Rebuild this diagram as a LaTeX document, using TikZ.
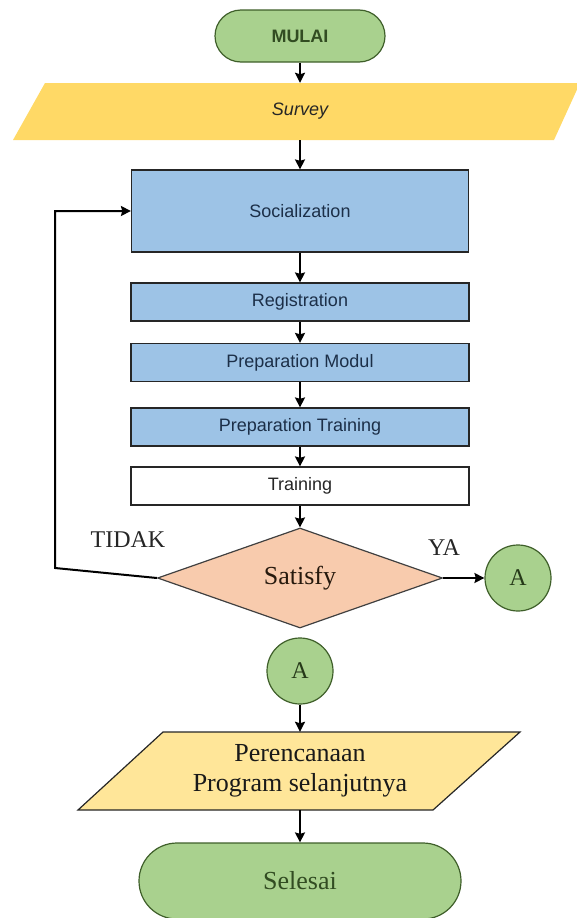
\documentclass[tikz,border=0pt]{standalone}
\usepackage{fontspec}
\setmainfont{Liberation Serif}
\setsansfont{Liberation Sans}
\usetikzlibrary{shapes.geometric, arrows.meta, positioning}
\definecolor{termgreen}{HTML}{A9D18E}
\definecolor{termedge}{HTML}{3F5F2A}
\definecolor{surveyyellow}{HTML}{FFD966}
\definecolor{planyellow}{HTML}{FFE699}
\definecolor{stepblue}{HTML}{9DC3E6}
\definecolor{stepnavy}{HTML}{1C2F48}
\definecolor{decisionpeach}{HTML}{F8CBAD}
\tikzstyle{terminal} = [rectangle, draw=termedge, fill=termgreen, line width=1.2pt, text centered, text=termedge!80!black]
\tikzstyle{block} = [rectangle, draw=black!85, fill=stepblue, line width=1.2pt, text centered, minimum width=338pt, minimum height=38pt, text=stepnavy, font=\sffamily\fontsize{18}{20}\selectfont]
\tikzstyle{plainblock} = [block, fill=white, text=black!85]
\tikzstyle{iotext} = [rectangle, text centered, inner sep=0pt]
\tikzstyle{decision} = [diamond, draw=black!75, fill=decisionpeach, line width=1.2pt, aspect=2.85, minimum width=285pt, minimum height=100pt, inner sep=0pt, text=black!80!brown, font=\fontsize{26}{28}\selectfont]
\tikzstyle{connector} = [circle, draw=termedge, fill=termgreen, line width=1.2pt, minimum size=66pt, inner sep=0pt, text=termedge!60!black, font=\fontsize{24}{26}\selectfont]
\tikzstyle{answer} = [text=black!85, font=\fontsize{24}{26}\selectfont]
\tikzstyle{arrow} = [line width=2pt,->,>={Stealth[length=10pt,width=10pt,inset=1.5pt]}]

\begin{document}
\begin{tikzpicture}[x=1pt, y=-1pt]
    \useasboundingbox (0,0) rectangle (577,918);

    % Parallelogram bodies
    \fill [surveyyellow] (13,140) -- (45,83) -- (580,83) -- (554,140) -- cycle;
    \filldraw [fill=planyellow, draw=black!85, line width=1.2pt] (78,810) -- (163,732) -- (520,732) -- (433,810) -- cycle;

    % Main column
    \node (start) [terminal, rounded corners=26pt, minimum width=170pt, minimum height=52pt, font=\sffamily\bfseries\fontsize{18}{20}\selectfont] at (300,36) {MULAI};
    \node (survey) [iotext, minimum width=500pt, minimum height=57pt, text=black!85, font=\sffamily\itshape\fontsize{18}{20}\selectfont] at (300,111.5) {Survey};
    \node (social) [block, minimum width=337pt, minimum height=82pt] at (300,211) {Socialization};
    \node (regist) [block] at (300,302) {Registration};
    \node (modul) [block] at (300,362.5) {Preparation Modul};
    \node (preptrain) [block] at (300,427) {Preparation Training};
    \node (train) [plainblock] at (300,486) {Training};
    \node (satisfy) [decision] at (300,578) {Satisfy};

    % Answers
    \node (tidak) [answer] at (128,540) {TIDAK};
    \node (ya) [answer] at (444,548) {YA};
    \node (yesA) [connector] at (518,578) {A};
    \coordinate (loopcorner) at (55,568);

    % After connector
    \node (contA) [connector] at (300,671) {A};
    \node (plan) [iotext, minimum width=300pt, minimum height=78pt, align=center, text=black!90, font=\fontsize{26}{30}\selectfont] at (300,771) {Perencanaan\\Program selanjutnya};
    \node (finish) [terminal, rounded corners=38pt, minimum width=322pt, minimum height=76pt, font=\fontsize{26}{28}\selectfont] at (300,881) {Selesai};

    % ==== Arrows
    \draw [arrow] (start) -- (survey);
    \draw [arrow] (survey) -- (social);
    \draw [arrow] (social) -- (regist);
    \draw [arrow] (regist) -- (modul);
    \draw [arrow] (modul) -- (preptrain);
    \draw [arrow] (preptrain) -- (train);
    \draw [arrow] (train) -- (satisfy);
    \draw [arrow] (satisfy) -- (yesA);
    \draw [arrow] (satisfy.west) -- (loopcorner) |- (social.west);
    \draw [arrow] (contA) -- (plan);
    \draw [arrow] (plan) -- (finish);

\end{tikzpicture}
\end{document}
